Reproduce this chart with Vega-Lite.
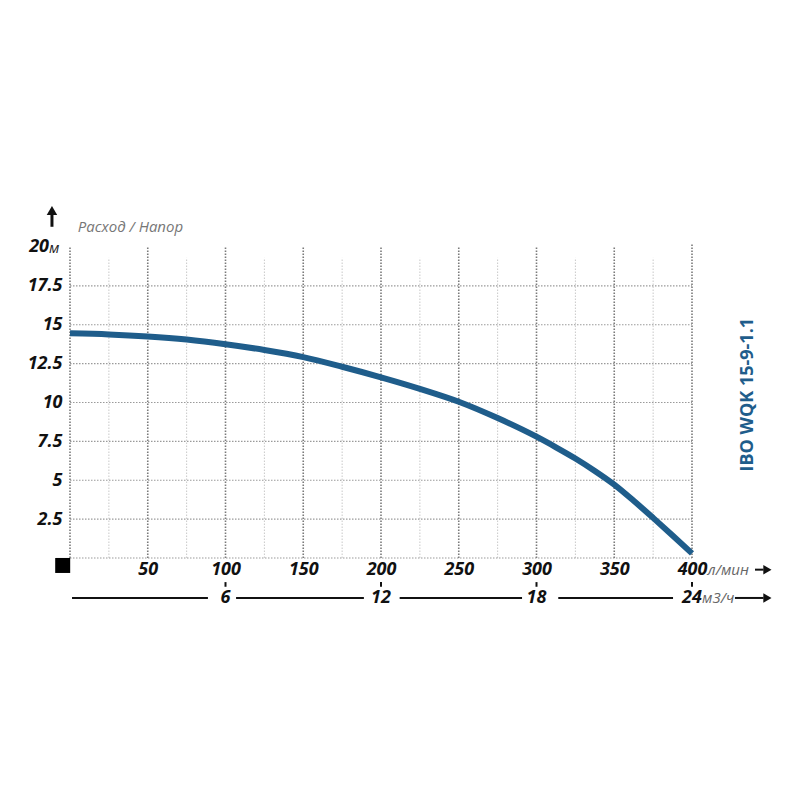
{
  "$schema": "https://vega.github.io/schema/vega-lite/v6.json",
  "autosize": {"type": "none"},
  "padding": {"left": 70, "top": 247, "right": 108, "bottom": 242},
  "width": 622,
  "height": 311,
  "background": "white",
  "config": {"view": {"stroke": null}},
  "datasets": {
    "curve": [
      {"q": 0, "h": 14.45}, {"q": 25, "h": 14.38}, {"q": 50, "h": 14.25}, {"q": 75, "h": 14.05},
      {"q": 100, "h": 13.75}, {"q": 125, "h": 13.38}, {"q": 150, "h": 12.92}, {"q": 175, "h": 12.3},
      {"q": 200, "h": 11.62}, {"q": 225, "h": 10.88}, {"q": 250, "h": 10.05}, {"q": 275, "h": 9.0},
      {"q": 300, "h": 7.8}, {"q": 312.5, "h": 7.12}, {"q": 325, "h": 6.4}, {"q": 337.5, "h": 5.6}, {"q": 350, "h": 4.72},
      {"q": 362.5, "h": 3.68}, {"q": 375, "h": 2.58}, {"q": 387.5, "h": 1.45}, {"q": 400, "h": 0.3}
    ],
    "major": [{"q": 0, "lo": 0, "hi": 20}, {"q": 50, "lo": 0, "hi": 20}, {"q": 100, "lo": 0, "hi": 20}, {"q": 150, "lo": 0, "hi": 20}, {"q": 200, "lo": 0, "hi": 20}, {"q": 250, "lo": 0, "hi": 20}, {"q": 300, "lo": 0, "hi": 20}, {"q": 350, "lo": 0, "hi": 20}, {"q": 400, "lo": 0, "hi": 20.2}],
    "minor": [{"q": 25, "lo": 0, "hi": 19.3}, {"q": 75, "lo": 0, "hi": 19.3}, {"q": 125, "lo": 0, "hi": 19.3}, {"q": 175, "lo": 0, "hi": 19.3}, {"q": 225, "lo": 0, "hi": 19.3}, {"q": 275, "lo": 0, "hi": 19.3}, {"q": 325, "lo": 0, "hi": 19.3}, {"q": 375, "lo": 0, "hi": 19.3}],
    "hgrid": [{"h": 0, "a": 0, "b": 400}, {"h": 2.5, "a": 0, "b": 400}, {"h": 5, "a": 0, "b": 400}, {"h": 7.5, "a": 0, "b": 400}, {"h": 10, "a": 0, "b": 400}, {"h": 12.5, "a": 0, "b": 400}, {"h": 15, "a": 0, "b": 400}, {"h": 17.5, "a": 0, "b": 400}],
    "m3": [{"q": 100, "v": "6"}, {"q": 200, "v": "12"}, {"q": 300, "v": "18"}, {"q": 400, "v": "24"}],
    "seg": [{"a": 1.3, "b": 88.7}, {"a": 106.8, "b": 189}, {"a": 212, "b": 290.7}, {"a": 314, "b": 387.8}, {"a": 427.6, "b": 446}],
    "arrows": [{"h": -0.75}, {"h": -2.57}]
  },
  "layer": [
    {
      "data": {"name": "minor"},
      "mark": {"type": "rule", "color": "#c8c8c8", "strokeWidth": 1, "strokeDash": [1.5, 1.5]},
      "encoding": {
        "x": {"field": "q", "type": "quantitative", "scale": {"domain": [0, 400], "nice": false, "zero": false},
          "axis": {"values": [50, 100, 150, 200, 250, 300, 350, 400], "domain": false, "ticks": false, "grid": false, "title": null, "labelFlush": false, "labelOverlap": false,
            "labelFont": "Open Sans", "labelFontSize": 18, "labelFontWeight": "bold", "labelFontStyle": "italic", "labelColor": "#111", "labelPadding": 2}},
        "y": {"field": "lo", "type": "quantitative", "scale": {"domain": [0, 20], "nice": false},
          "axis": {"values": [2.5, 5, 7.5, 10, 12.5, 15, 17.5], "labelExpr": "'' + datum.value", "domain": false, "ticks": false, "grid": false, "title": null, "labelFlush": false,
            "labelFont": "Open Sans", "labelFontSize": 18, "labelFontWeight": "bold", "labelFontStyle": "italic", "labelColor": "#111", "labelPadding": 8}},
        "y2": {"field": "hi"}
      }
    },
    {
      "data": {"name": "hgrid"},
      "mark": {"type": "rule", "color": "#9a9a9a", "strokeWidth": 1.2, "strokeDash": [1.5, 1.5]},
      "encoding": {
        "y": {"field": "h", "type": "quantitative"},
        "x": {"field": "a", "type": "quantitative"},
        "x2": {"field": "b"}
      }
    },
    {
      "data": {"name": "major"},
      "mark": {"type": "rule", "color": "#7a7a7a", "strokeWidth": 1.6, "strokeDash": [1.5, 1.5]},
      "encoding": {
        "x": {"field": "q", "type": "quantitative"},
        "y": {"field": "lo", "type": "quantitative"},
        "y2": {"field": "hi"}
      }
    },
    {
      "data": {"name": "curve"},
      "mark": {"type": "line", "color": "#1f5d8b", "strokeWidth": 6, "interpolate": "monotone", "strokeCap": "butt"},
      "encoding": {
        "x": {"field": "q", "type": "quantitative"},
        "y": {"field": "h", "type": "quantitative"}
      }
    },
    {
      "data": {"values": [{"t": "20"}]},
      "mark": {"type": "text", "align": "right", "baseline": "middle", "font": "Open Sans", "fontSize": 18, "fontWeight": "bold", "fontStyle": "italic", "color": "#111"},
      "encoding": {"x": {"datum": -13.5, "type": "quantitative"}, "y": {"datum": 20, "type": "quantitative"}, "text": {"field": "t"}}
    },
    {
      "data": {"values": [{"t": "м"}]},
      "mark": {"type": "text", "align": "left", "baseline": "middle", "font": "Open Sans", "fontSize": 15, "fontStyle": "italic", "color": "#222", "dy": 1},
      "encoding": {"x": {"datum": -13.5, "type": "quantitative"}, "y": {"datum": 20, "type": "quantitative"}, "text": {"field": "t"}}
    },
    {
      "data": {"values": [{"t": "Расход / Напор"}]},
      "mark": {"type": "text", "align": "left", "baseline": "middle", "font": "Open Sans", "fontSize": 15, "fontStyle": "italic", "color": "#777"},
      "encoding": {"x": {"datum": 5, "type": "quantitative"}, "y": {"datum": 21.3, "type": "quantitative"}, "text": {"field": "t"}}
    },
    {
      "data": {"values": [{"t": "shaft"}]},
      "mark": {"type": "rule", "color": "#111", "strokeWidth": 3},
      "encoding": {"x": {"datum": -11.6, "type": "quantitative"}, "y": {"datum": 21.3, "type": "quantitative"}, "y2": {"datum": 22.1}}
    },
    {
      "data": {"values": [{"t": "up"}]},
      "mark": {"type": "point", "shape": "triangle-up", "filled": true, "color": "#111", "size": 110, "opacity": 1},
      "encoding": {"x": {"datum": -11.6, "type": "quantitative"}, "y": {"datum": 22.35, "type": "quantitative"}}
    },
    {
      "data": {"values": [{"t": "sq"}]},
      "mark": {"type": "point", "shape": "square", "filled": true, "color": "#000", "size": 225, "opacity": 1},
      "encoding": {"x": {"datum": -4.7, "type": "quantitative"}, "y": {"datum": -0.48, "type": "quantitative"}}
    },
    {
      "data": {"values": [{"t": "л/мин"}]},
      "mark": {"type": "text", "align": "left", "baseline": "middle", "font": "Open Sans", "fontSize": 15, "fontStyle": "italic", "color": "#666"},
      "encoding": {"x": {"datum": 410, "type": "quantitative"}, "y": {"datum": -0.75, "type": "quantitative"}, "text": {"field": "t"}}
    },
    {
      "data": {"values": [{"a": 440.5, "b": 446}]},
      "mark": {"type": "rule", "color": "#111", "strokeWidth": 2},
      "encoding": {"x": {"field": "a", "type": "quantitative"}, "x2": {"field": "b"}, "y": {"datum": -0.75, "type": "quantitative"}}
    },
    {
      "data": {"name": "arrows"},
      "mark": {"type": "point", "shape": "triangle-right", "filled": true, "color": "#111", "size": 90, "opacity": 1},
      "encoding": {"x": {"datum": 448.5, "type": "quantitative"}, "y": {"field": "h", "type": "quantitative"}}
    },
    {
      "data": {"name": "seg"},
      "mark": {"type": "rule", "color": "#111", "strokeWidth": 2},
      "encoding": {"x": {"field": "a", "type": "quantitative"}, "x2": {"field": "b"}, "y": {"datum": -2.57, "type": "quantitative"}}
    },
    {
      "data": {"name": "m3"},
      "mark": {"type": "rule", "color": "#111", "strokeWidth": 2},
      "encoding": {"x": {"field": "q", "type": "quantitative"}, "y": {"datum": -1.55, "type": "quantitative"}, "y2": {"datum": -1.85}}
    },
    {
      "data": {"name": "m3"},
      "mark": {"type": "text", "align": "center", "baseline": "middle", "font": "Open Sans", "fontSize": 18, "fontWeight": "bold", "fontStyle": "italic", "color": "#111"},
      "encoding": {"x": {"field": "q", "type": "quantitative"}, "y": {"datum": -2.57, "type": "quantitative"}, "text": {"field": "v"}}
    },
    {
      "data": {"values": [{"t": "м3/ч"}]},
      "mark": {"type": "text", "align": "left", "baseline": "middle", "font": "Open Sans", "fontSize": 15, "fontStyle": "italic", "color": "#666"},
      "encoding": {"x": {"datum": 406.5, "type": "quantitative"}, "y": {"datum": -2.57, "type": "quantitative"}, "text": {"field": "t"}}
    },
    {
      "data": {"values": [{"t": "IBO WQK 15-9-1.1"}]},
      "mark": {"type": "text", "align": "center", "baseline": "middle", "angle": 270, "font": "Open Sans", "fontSize": 18, "fontWeight": "bold", "color": "#1f5d8b"},
      "encoding": {"x": {"datum": 436, "type": "quantitative"}, "y": {"datum": 10.5, "type": "quantitative"}, "text": {"field": "t"}}
    }
  ]
}
